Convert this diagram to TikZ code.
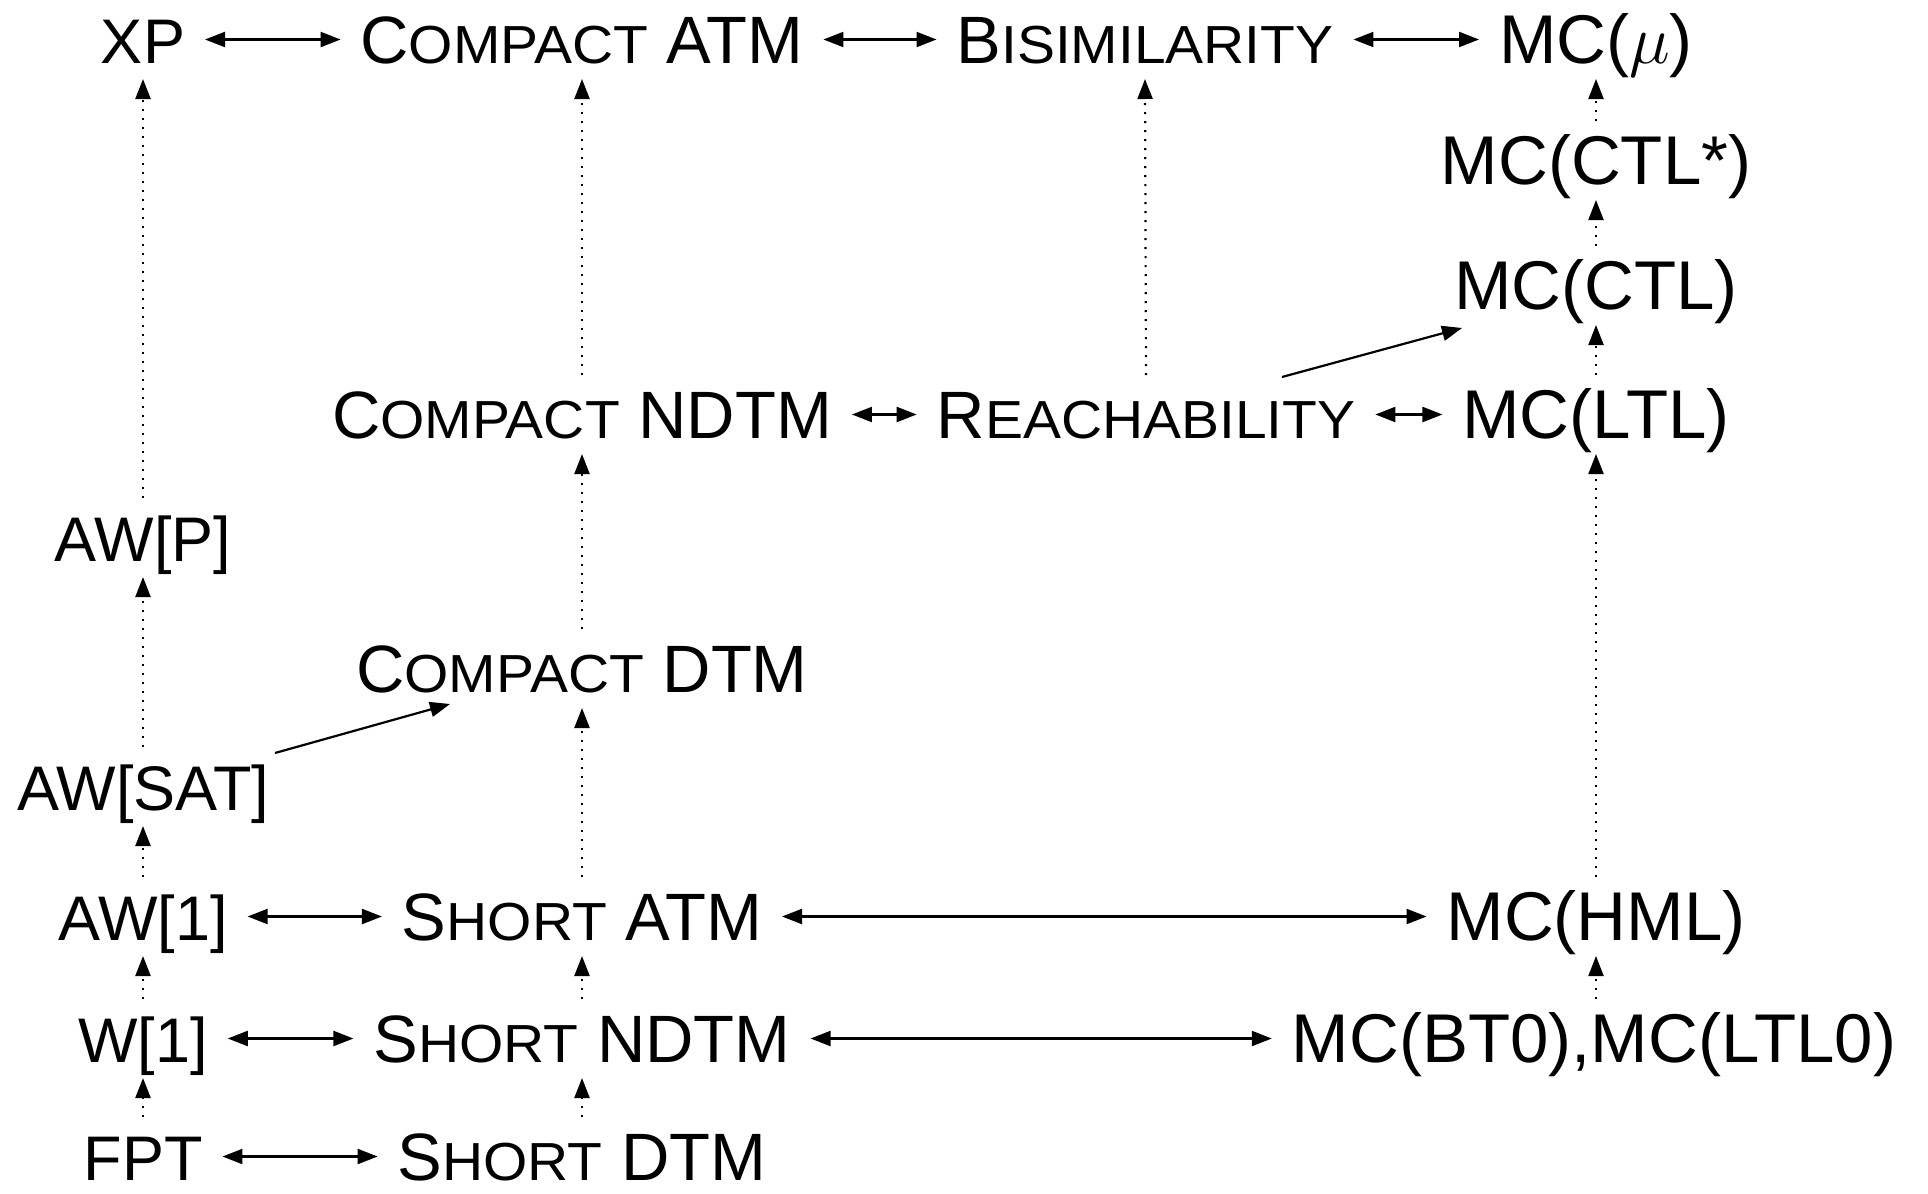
\RequirePackage{fix-cm}
\documentclass[tikz,border=0pt]{standalone}
\usepackage{fontspec}
\usepackage{graphicx}
\setmainfont{Liberation Sans}
\usetikzlibrary{arrows.meta}
% upper-case letters set smaller (and a little wide), standing in for small capitals
\newcommand\smc[1]{\scalebox{0.85}[0.8]{#1}}

\begin{document}
\begin{tikzpicture}[x=1pt,y=-1pt,
  lbl/.style={inner sep=0pt, text height=47pt, text depth=0pt,
              outer xsep=20pt, outer ysep=16pt, anchor=base},
  leftlbl/.style={lbl, font=\fontsize{63}{70}\selectfont},
  midlbl/.style={lbl, font=\fontsize{67}{74}\selectfont},
  rightlbl/.style={lbl, font=\fontsize{69}{76}\selectfont},
  head/.tip={Triangle[length=20pt,width=15pt]},
  equiv/.style={head-head, line width=2.2pt},
  reduce/.style={-head, line width=2.2pt, dash pattern=on 2pt off 7pt},
  embed/.style={-head, line width=2.2pt}
]
\useasboundingbox (0,0) rectangle (1928,1194);

% left column: parameterized classes
\node[leftlbl] (xp)    at (143,63)   {XP};
\node[leftlbl] (awp)   at (143,561)  {AW[P]};
\node[leftlbl] (awsat) at (143,810)  {AW[SAT]};
\node[leftlbl] (aw1)   at (143,940)  {AW[1]};
\node[leftlbl] (w1)    at (143,1062) {W[1]};
\node[leftlbl] (fpt)   at (143,1180) {FPT};

% middle column: machine problems
\node[midlbl] (catm)  at (582,63)   {C\smc{OMPACT} ATM};
\node[midlbl] (cndtm) at (582,438)  {C\smc{OMPACT} NDTM};
\node[midlbl] (cdtm)  at (582,692)  {C\smc{OMPACT} DTM};
\node[midlbl] (satm)  at (582,940)  {S\smc{HORT} ATM};
\node[midlbl] (sndtm) at (582,1062) {S\smc{HORT} NDTM};
\node[midlbl] (sdtm)  at (582,1180) {S\smc{HORT} DTM};

% graph problems
\node[midlbl] (bisim) at (1145,63)  {B\smc{ISIMILARITY}};
\node[midlbl] (reach) at (1146,438) {R\smc{EACHABILITY}};

% right column: model checking
\node[rightlbl] (mcmu)   at (1596,63)   {MC($\mu$)};
\node[rightlbl] (mcctls) at (1596,184)  {MC(CTL*)};
\node[rightlbl] (mcctl)  at (1596,309)  {MC(CTL)};
\node[rightlbl] (mcltl)  at (1596,438)  {MC(LTL)};
\node[rightlbl] (mchml)  at (1596,940)  {MC(HML)};
\node[rightlbl] (mcbt)   at (1594,1062) {MC(BT0),MC(LTL0)};

% equivalences
\draw[equiv] (xp.east) -- (xp.east -| catm.west);
\draw[equiv] (catm.east) -- (catm.east -| bisim.west);
\draw[equiv] (bisim.east) -- (bisim.east -| mcmu.west);
\draw[equiv] (cndtm.east) -- (cndtm.east -| reach.west);
\draw[equiv] (reach.east) -- (reach.east -| mcltl.west);
\draw[equiv] (aw1.east) -- (aw1.east -| satm.west);
\draw[equiv] (satm.east) -- (satm.east -| mchml.west);
\draw[equiv] (w1.east) -- (w1.east -| sndtm.west);
\draw[equiv] (sndtm.east) -- (sndtm.east -| mcbt.west);
\draw[equiv] (fpt.east) -- (fpt.east -| sdtm.west);

% inclusions, left column
\draw[reduce] (fpt.north) -- (w1.south);
\draw[reduce] (w1.north) -- (aw1.south);
\draw[reduce] (aw1.north) -- (awsat.south);
\draw[reduce] (awsat.north) -- (awp.south);
\draw[reduce] (awp.north) -- (xp.south);

% inclusions, middle column
\draw[reduce] (sdtm.north) -- (sndtm.south);
\draw[reduce] (sndtm.north) -- (satm.south);
\draw[reduce] (satm.north) -- (cdtm.south);
\draw[reduce] (cdtm.north) -- (cndtm.south);
\draw[reduce] (cndtm.north) -- (catm.south);
\draw[reduce] (reach.north) -- (bisim.south);

% inclusions, right column
\draw[reduce] (mcbt.north -| mchml.south) -- (mchml.south);
\draw[reduce] (mchml.north) -- (mcltl.south);
\draw[reduce] (mcltl.north) -- (mcctl.south);
\draw[reduce] (mcctl.north) -- (mcctls.south);
\draw[reduce] (mcctls.north) -- (mcmu.south);

% reductions across columns
\draw[embed] ([shift={(132,-57)}]awsat.base) -- ([shift={(-132,12)}]cdtm.base);
\draw[embed] ([shift={(136,-61)}]reach.base) -- ([shift={(-134,19)}]mcctl.base);
\end{tikzpicture}
\end{document}
